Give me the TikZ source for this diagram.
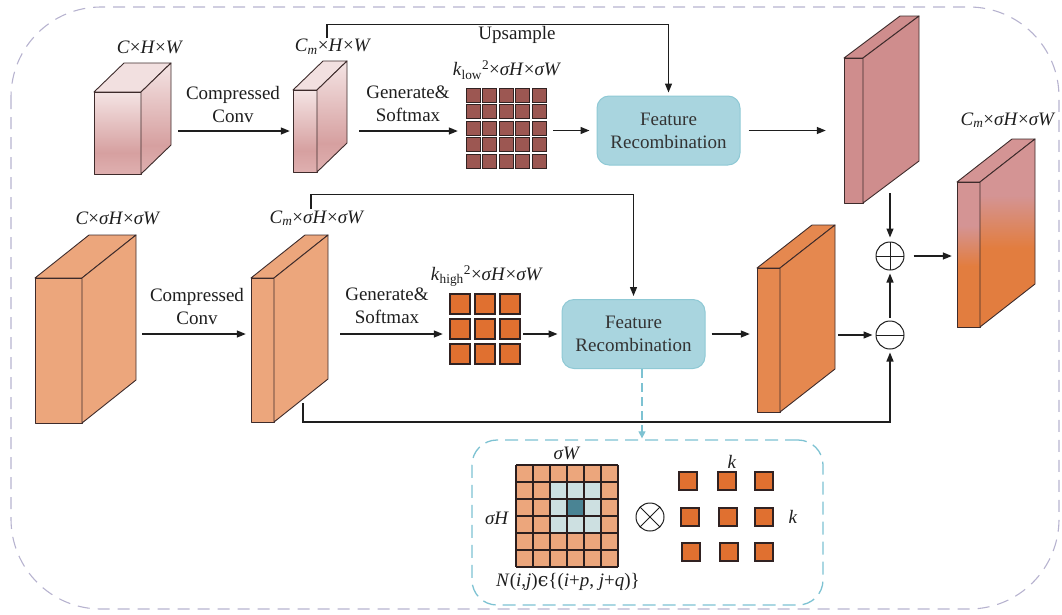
\documentclass[tikz,border=0pt]{standalone}
\usepackage{fontspec}
\setmainfont{Liberation Serif}
\newfontfamily\symfont{DejaVu Serif}
\usetikzlibrary{arrows.meta}

\definecolor{lineC}{HTML}{1E1E1E}
\definecolor{edgeC}{HTML}{3D2B2B}
\definecolor{pkLight}{HTML}{F4E4E4}
\definecolor{pkDeep}{HTML}{D6A0A0}
\definecolor{pkLow}{HTML}{DFB0B0}
\definecolor{pkTop}{HTML}{F2E0E0}
\definecolor{pkFlat}{HTML}{CF8D8D}
\definecolor{pkOut}{HTML}{D49494}
\definecolor{orOut}{HTML}{E27D3F}
\definecolor{salmonC}{HTML}{ECA67C}
\definecolor{orangeC}{HTML}{E5884F}
\definecolor{klowC}{HTML}{9C5752}
\definecolor{khighC}{HTML}{E07030}
\definecolor{frFill}{HTML}{A9D5DF}
\definecolor{frDraw}{HTML}{8FC9D5}
\definecolor{nbrC}{HTML}{CDE0E1}
\definecolor{ctrC}{HTML}{4A8494}
\definecolor{frameC}{HTML}{B7B3CF}
\definecolor{detailC}{HTML}{7DC2D2}

% vertical shadings (bottom to top)
\pgfdeclareverticalshading{pinkcube}{100bp}{color(0bp)=(pkLow); color(25bp)=(pkLow); color(38bp)=(pkDeep); color(75bp)=(pkLight); color(100bp)=(pkLight)}
\pgfdeclareverticalshading{mixmap}{100bp}{color(0bp)=(orOut); color(46bp)=(orOut); color(60bp)=(pkOut); color(100bp)=(pkOut)}

\tikzset{
  edge/.style={draw=edgeC, line width=0.9pt, line join=round},
  pinkgrad/.style={shade, shading=pinkcube},
  pinktop/.style={fill=pkTop},
  pinkflat/.style={fill=pkFlat},
  outgrad/.style={shade, shading=mixmap},
  outtop/.style={fill=pkOut},
  salmon/.style={fill=salmonC},
  orangeflat/.style={fill=orangeC},
  arr/.style={draw=lineC, line width=1.3pt, -{Triangle[length=9pt,width=7pt]}},
  dasharr/.style={draw=detailC, line width=1.2pt, dash pattern=on 9pt off 5pt, -{Triangle[length=7pt,width=7pt]}},
  dimlbl/.style={inner sep=1pt, text=lineC},
  txt/.style={align=center, text=lineC},
  frbox/.style={rectangle, rounded corners=12pt, fill=frFill, draw=frDraw, line width=1pt,
    minimum width=143pt, minimum height=69pt, align=center, text=black!80},
  spot/.style={inner sep=0pt},
  klowcell/.style={fill=klowC, draw=edgeC!80!black, line width=1pt},
  khighcell/.style={fill=khighC, draw=edgeC!80!black, line width=1.1pt},
  gridline/.style={draw=edgeC!70!black, line width=1.1pt},
  op/.style={circle, draw=lineC, line width=1pt, minimum size=28pt, inner sep=0pt},
  plusop/.style={op, path picture={
    \draw[lineC, line width=1pt] (path picture bounding box.north) -- (path picture bounding box.south)
      (path picture bounding box.west) -- (path picture bounding box.east);}},
  minusop/.style={op, path picture={
    \draw[lineC, line width=1pt] (path picture bounding box.west) -- (path picture bounding box.east);}},
  timesop/.style={op, path picture={
    \draw[lineC, line width=1pt] (path picture bounding box.north west) -- (path picture bounding box.south east)
      (path picture bounding box.south west) -- (path picture bounding box.north east);}},
  frame/.style={draw=frameC, line width=1.1pt, dash pattern=on 12pt off 8pt, rounded corners=90pt},
  detailbox/.style={rectangle, draw=detailC, line width=1.3pt, dash pattern=on 13pt off 7pt, rounded corners=25pt}
}

% feature map block: name, x, y (front top-left), width, height, depth x, depth y, face style, top style
\newcommand{\fmap}[9]{%
  \path[edge,#9] (#2,#3) -- ++(#6,-#7) -- ++(#4,0) -- ++(-#6,#7) -- cycle;
  \path[edge,#8] (#2,#3) rectangle ++(#4,#5);
  \path[edge,#8] (#2+#4,#3) -- ++(#6,-#7) -- ++(0,#5) -- ++(-#6,#7) -- cycle;
  \node[spot, minimum width=#4pt, minimum height=#5pt] (#1) at (#2+#4/2,#3+#5/2) {};
}

\begin{document}
\begin{tikzpicture}[x=1pt, y=-1pt, font=\fontsize{19}{23}\selectfont]
\useasboundingbox (0,0) rectangle (1062,614);
\draw[frame] (11,7) rectangle (1059,609);

% low-frequency branch
\fmap{c1}{94}{92}{47}{82}{30}{29}{pinkgrad}{pinktop}
\fmap{c2}{293}{90}{24}{82}{30}{29}{pinkgrad}{pinktop}
\node[dimlbl] (l1) at (150,47) {\textit{C}×\textit{H}×\textit{W}};
\node[dimlbl] (l2) at (333,47) {\textit{C}\textsubscript{\textit{m}}×\textit{H}×\textit{W}};
\node[txt] (cc1) at (233,104) {Compressed\\Conv};
\node[txt] (gs1) at (408,104) {Generate\&\\Softmax};
\node[txt] (ups) at (517,35) {Upsample};

\node[spot, minimum width=80pt, minimum height=80pt] (klow) at (506,128) {};
\foreach \i in {0,...,4}
  \foreach \j in {0,...,4}
    \path[klowcell] (466+16.5*\i,88+16.5*\j) rectangle ++(14,14);
\node[dimlbl] (l6) at (507,70) {\textit{k}\textsubscript{low}\textsuperscript{2}×\textit{σH}×\textit{σW}};

\node[frbox] (fr1) at (668.5,130.5) {Feature\\Recombination};
\fmap{s1}{844}{58}{19}{145}{56}{42}{pinkflat}{pinkflat}

\draw[arr, shorten <=37pt, shorten >=3pt] (c1.east |- c2.west) -- (c2.west);
\draw[arr, shorten <=42pt, shorten >=8pt] (c2.east) -- (klow.west |- c2.east);
\draw[arr, shorten <=7pt, shorten >=7pt] (klow.east |- fr1.west) -- (fr1.west);
\draw[arr, shorten >=3pt] (l2.north) ++(-6,0) -- ++(0,-14) -| (fr1.north);
\draw[arr, shorten <=8pt, shorten >=18pt] (fr1.east) -- (fr1.east -| s1.west);

% high-frequency branch
\fmap{c3}{35}{278}{47}{145}{54}{43}{salmon}{salmon}
\fmap{c4}{251}{278}{23}{144}{54}{43}{salmon}{salmon}
\node[dimlbl] (l3) at (118,218) {\textit{C}×\textit{σH}×\textit{σW}};
\node[dimlbl] (l4) at (317,218) {\textit{C}\textsubscript{\textit{m}}×\textit{σH}×\textit{σW}};
\node[txt] (cc2) at (197,306) {Compressed\\Conv};
\node[txt] (gs2) at (387,306) {Generate\&\\Softmax};

\node[spot, minimum width=70pt, minimum height=70pt] (khigh) at (485,329) {};
\foreach \i in {0,1,2}
  \foreach \j in {0,1,2}
    \path[khighcell] (450+25*\i,294+25*\j) rectangle ++(20,20);
\node[dimlbl] (l7) at (487,276) {\textit{k}\textsubscript{high}\textsuperscript{2}×\textit{σH}×\textit{σW}};

\node[frbox] (fr2) at (633.5,334) {Feature\\Recombination};
\fmap{s2}{757}{268}{23}{144}{55}{43}{orangeflat}{orangeflat}

\draw[arr, shorten <=60pt, shorten >=5pt] (c3.east |- fr2.west) -- (c4.west |- fr2.west);
\draw[arr, shorten <=66pt, shorten >=7pt] (c4.east |- fr2.west) -- (khigh.west |- fr2.west);
\draw[arr, shorten <=3pt, shorten >=4pt] (khigh.east |- fr2.west) -- (fr2.west);
\draw[arr, shorten >=3pt] (l4.north) ++(-6,0) -- ++(0,-15) -| (fr2.north);
\draw[arr, shorten <=6pt, shorten >=7pt] (fr2.east) -- (fr2.east -| s2.west);

% fusion
\node[plusop] (plus) at (890,256) {};
\node[minusop] (minus) at (890,335) {};
\fmap{out}{957}{182}{23}{145}{55}{43}{outgrad}{outtop}
\node[dimlbl] (l5) at (1008,120) {\textit{C}\textsubscript{\textit{m}}×\textit{σH}×\textit{σW}};

\coordinate (s1b) at (890,193);
\coordinate (c4b) at (303,403);
\draw[arr, shorten >=4pt] (s1b) -- (plus.north);
\draw[arr, shorten <=3pt, shorten >=3pt] (minus.north) -- (plus.south);
\draw[arr, shorten <=9pt, shorten >=5pt] (plus.east) -- (plus.east -| out.west);
\draw[arr, shorten <=58pt, shorten >=3pt] (s2.east |- minus) -- (minus.west);
\draw[arr, shorten >=3pt] (c4b) -- ++(0,19) -| (minus.south);

% recombination detail
\node[detailbox, minimum width=351pt, minimum height=165pt] (detail) at (647.5,522.5) {};
\draw[dasharr, shorten >=1pt] (fr2.south) ++(8.5,0) coordinate (d0) -- (d0 |- detail.north);

\node[spot, minimum size=102pt] (bigmap) at (567,516) {};
\fill[salmonC] (516,465) rectangle ++(102,102);
\fill[nbrC] (550,482) rectangle ++(51,51);
\fill[ctrC] (567,499) rectangle ++(17,17);
\foreach \i in {0,...,6} {
  \draw[gridline] (516+17*\i,465) -- ++(0,102);
  \draw[gridline] (516,465+17*\i) -- ++(102,0);
}
\node[dimlbl] (sw) at (567,453) {\textit{σW}};
\node[dimlbl] (sh) at (497,518) {\textit{σH}};
\node[dimlbl] (nij) at (568,582) {\textit{N}(\textit{i},\textit{j}){\symfont ϵ}\{(\textit{i}+\textit{p}, \textit{j}+\textit{q})\}};

\node[timesop] (otimes) at (650,517) {};
\foreach \x/\y in {688/481, 727/481, 764/481, 690/517, 728/517, 764/517, 691/552, 729/552, 764/552}
  \path[khighcell] (\x-9,\y-9) rectangle ++(18,18);
\node[dimlbl] (k1) at (732,462) {\textit{k}};
\node[dimlbl] (k2) at (793,517) {\textit{k}};
\end{tikzpicture}
\end{document}
